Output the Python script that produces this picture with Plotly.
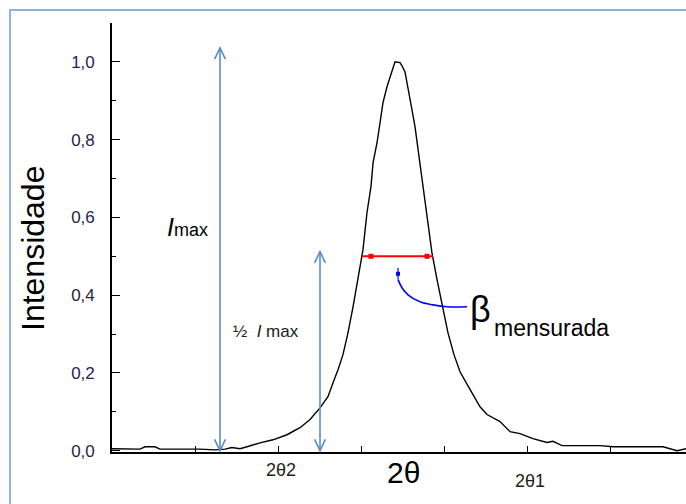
import plotly.graph_objects as go

# ---- data (2θ in arbitrary units, intensity normalised) ----
two_theta = [0.000, 0.157, 0.337, 0.398, 0.518, 0.578, 1.060, 1.241, 1.361, 1.446,
             1.542, 1.627, 1.783, 1.940, 2.108, 2.265, 2.386, 2.506, 2.602, 2.663,
             2.723, 2.783, 2.843, 2.904, 2.964, 3.024, 3.072, 3.120, 3.145, 3.193,
             3.229, 3.265, 3.313, 3.373, 3.410, 3.470, 3.494, 3.530, 3.566, 3.614,
             3.651, 3.687, 3.723, 3.747, 3.783, 3.855, 3.916, 3.976, 4.048, 4.120,
             4.193, 4.253, 4.337, 4.434, 4.518, 4.675, 4.795, 4.916, 5.072, 5.241,
             5.313, 5.422, 5.880, 6.036, 6.639, 6.807, 6.916]
intensity = [0.005, 0.005, 0.004, 0.010, 0.010, 0.004, 0.004, 0.002, 0.004, 0.008,
             0.005, 0.010, 0.020, 0.028, 0.041, 0.059, 0.080, 0.110, 0.139, 0.175,
             0.208, 0.247, 0.303, 0.370, 0.440, 0.517, 0.612, 0.679, 0.740, 0.792,
             0.843, 0.895, 0.936, 0.979, 1.000, 0.998, 0.990, 0.974, 0.928, 0.877,
             0.833, 0.774, 0.722, 0.676, 0.612, 0.509, 0.440, 0.380, 0.303, 0.247,
             0.203, 0.180, 0.149, 0.113, 0.093, 0.075, 0.049, 0.044, 0.031, 0.021,
             0.024, 0.013, 0.013, 0.010, 0.010, 0.000, 0.005]

y_tickvals = [0.0, 0.2, 0.4, 0.6, 0.8, 1.0]
x_tickvals = [1, 2, 3, 4, 5, 6]

# annotation values
imax_x, imax_top = 1.301, 1.036
half_x, half_top = 2.506, 0.512
fwhm_left, fwhm_right, fwhm_y = 3.012, 3.867, 0.5
fwhm_marks_x = [3.12, 3.795]
beta_curve_x = [4.277, 4.036, 3.867, 3.711, 3.566, 3.494, 3.446]
beta_curve_y = [0.370, 0.370, 0.375, 0.383, 0.401, 0.419, 0.440]
beta_tip = (3.446, 0.455)

FONT = "Arial, Liberation Sans, sans-serif"
ARROW_C = "#5b8cc8"

L, R, T, B, W, H = 112, 0, 23, 52, 686, 504
PW, PH = W - L - R, H - T - B


def px(xp):
    return (xp - L) / PW


def py(yp):
    return (H - B - yp) / PH


fig = go.Figure()

fig.add_trace(go.Scatter(x=two_theta, y=intensity, mode="lines",
                         line=dict(color="black", width=1.4), showlegend=False))

# FWHM red bar
fig.add_trace(go.Scatter(x=[fwhm_left, fwhm_right], y=[fwhm_y, fwhm_y], mode="lines",
                         line=dict(color="#ff0000", width=2), showlegend=False))
fig.add_trace(go.Scatter(x=fwhm_marks_x, y=[fwhm_y, fwhm_y], mode="markers",
                         marker=dict(color="#ff0000", symbol="square", size=5), showlegend=False))

# blue curved pointer
fig.add_trace(go.Scatter(x=beta_curve_x, y=beta_curve_y, mode="lines", line_shape="spline",
                         line=dict(color="#0000ff", width=1.6), showlegend=False))
fig.add_trace(go.Scatter(x=[beta_curve_x[-1], beta_tip[0]], y=[beta_curve_y[-1], beta_tip[1] + 0.015],
                         mode="lines", line=dict(color="#0000ff", width=1.2), showlegend=False))
fig.add_trace(go.Scatter(x=[beta_tip[0]], y=[beta_tip[1]], mode="markers",
                         marker=dict(color="#0000ff", symbol="square", size=4), showlegend=False))

# double-headed blue arrows (line + open chevrons)
dx, dy = 0.065, 0.029
shapes = []
for xa, top in [(imax_x, imax_top), (half_x, half_top)]:
    shapes.append(dict(type="path", xref="x", yref="y",
                       path=f"M {xa},0 L {xa},{top}",
                       line=dict(color=ARROW_C, width=1.6)))
    shapes.append(dict(type="path", xref="x", yref="y",
                       path=f"M {xa-dx},{top-dy} L {xa},{top} L {xa+dx},{top-dy}",
                       line=dict(color=ARROW_C, width=1.6)))
    shapes.append(dict(type="path", xref="x", yref="y",
                       path=f"M {xa-dx},{dy} L {xa},0 L {xa+dx},{dy}",
                       line=dict(color=ARROW_C, width=1.6)))

# outer light-blue frame
shapes.append(dict(type="rect", xref="paper", yref="paper",
                   x0=px(10), x1=px(760), y0=py(560), y1=py(10),
                   line=dict(color="#8db3e2", width=2), layer="below"))


def label(text, x, y, size, color="black", xanchor="center", angle=0):
    return dict(text=text, x=px(x), y=py(y), xref="paper", yref="paper",
                xanchor=xanchor, yanchor="middle", textangle=angle, showarrow=False,
                font=dict(size=size, color=color, family=FONT))


annotations = [
    label("Intensidade", 33, 249, 32, angle=-90),
    label("2θ", 403, 472, 30),
    label("2θ2", 281, 470, 18, color="#222222"),
    label("2θ1", 530, 481, 18, color="#222222"),
    label("<i>I</i><span style='font-size:18px'>max</span>", 187, 227, 25),
    label("½  <i>I</i> max", 266, 331, 17, color="#222222"),
    label("β", 480, 309, 36),
    label("mensurada", 492, 328, 23, xanchor="left"),
]

fig.update_layout(
    width=W, height=H,
    margin=dict(l=L, r=R, t=T, b=B),
    paper_bgcolor="white", plot_bgcolor="white",
    separators=",.",
    font=dict(family=FONT),
    shapes=shapes, annotations=annotations,
    showlegend=False,
    xaxis=dict(range=[0, PW / 83.0], tickvals=x_tickvals, showticklabels=False,
               ticks="inside", ticklen=6, tickwidth=1.3, tickcolor="black",
               showline=True, linecolor="black", linewidth=1.6,
               showgrid=False, zeroline=False),
    yaxis=dict(range=[-0.0034, 1.1], tickvals=y_tickvals, tickformat=".1f",
               ticks="inside", ticklen=8, tickwidth=1.3, tickcolor="black",
               ticklabelstandoff=12,
               tickfont=dict(size=17, color="#24244a", family=FONT),
               minor=dict(tickvals=[0.1, 0.3, 0.5, 0.7, 0.9, 1.1], ticks="inside",
                          ticklen=4, tickcolor="black", tickwidth=1.2),
               showline=True, linecolor="black", linewidth=1.6,
               showgrid=False, zeroline=False),
)

fig.write_html("out.html", config={"displayModeBar": False},
               post_script="document.body.style.margin='0px';document.body.style.overflow='hidden';")
